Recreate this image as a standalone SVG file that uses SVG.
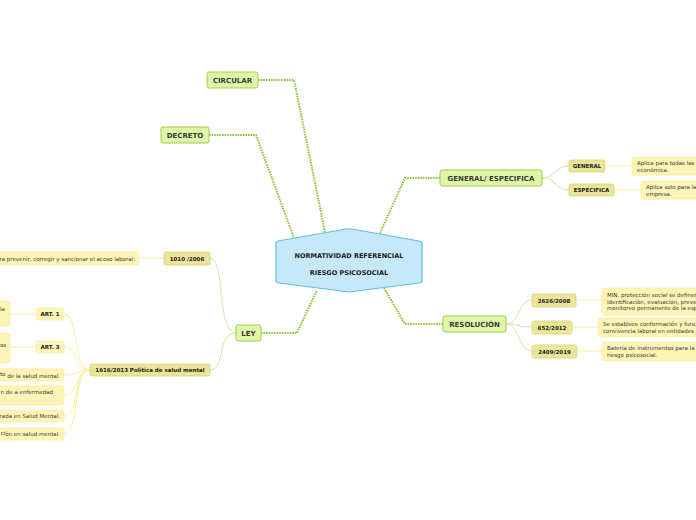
<svg xmlns="http://www.w3.org/2000/svg" width="696" height="520" viewBox="0 0 696 520">
<style>
text{font-family:"DejaVu Sans","Verdana",sans-serif;fill:#333}
.main{fill:#c5e9fb;stroke:#5dbde9;stroke-width:1.2}
.mt{font-size:6.5px;font-weight:bold;fill:#222;text-anchor:middle}
.l1{fill:#def6a8;stroke:#9fcd4b;stroke-width:1}
.t1{font-size:7px;font-weight:bold;fill:#3a3a3a;text-anchor:middle}
.l2{fill:#ebe597;stroke:#d8d07c;stroke-width:0.8}
.t2{font-size:5.5px;font-weight:bold;fill:#222;text-anchor:middle}
.lf{fill:#fdf4b5;stroke:#fbeca0;stroke-width:0.8}
.tl{font-size:5.5px;fill:#3a3a3a}
.dot{fill:none;stroke:#8fc63c;stroke-width:2;stroke-dasharray:1.6 1}
.c2{fill:none;stroke:#ddd99a;stroke-width:0.9}
.c3{fill:none;stroke:#fbee9e;stroke-width:1}
</style>
<g id="connectors">
<path class="dot" d="M258,80 H294 L325,232"/>
<path class="dot" d="M209,135 H256 L294,238"/>
<path class="dot" d="M440,178 H405 L380,233"/>
<path class="dot" d="M443,324 H405 L384,288"/>
<path class="dot" d="M261,333 H297 L317,290"/>
<path class="c2" d="M542,178 C556,178 555,166 569,166"/>
<path class="c2" d="M542,178 C556,178 555,190 569,190"/>
<path class="c3" d="M605,166 H632"/>
<path class="c3" d="M614,190 H641"/>
<path class="c2" d="M506,324 C520,324 518,300 532,300"/>
<path class="c2" d="M506,324 C520,324 518,327 532,327"/>
<path class="c2" d="M506,324 C520,324 518,351 532,351"/>
<path class="c3" d="M576,300 H602"/>
<path class="c3" d="M572,327 H598"/>
<path class="c3" d="M577,351 H602"/>
<path class="c2" d="M236,333 C216,333 226,258 210,258"/>
<path class="c2" d="M236,333 C216,333 226,370 210,370"/>
<path class="c3" d="M164,258 H139"/>
<path class="c3" d="M90,370 C72,370 80,314 64,314"/>
<path class="c3" d="M90,370 C72,370 80,347 64,347"/>
<path class="c3" d="M90,370 C76,370 78,375 64,375"/>
<path class="c3" d="M90,370 C74,370 80,395 64,395"/>
<path class="c3" d="M90,370 C72,370 80,416 64,416"/>
<path class="c3" d="M90,370 C72,370 80,434 64,434"/>
<path class="c3" d="M36,314 H10"/>
<path class="c3" d="M36,347 H10"/>
</g>
<g id="center">
<path class="main" d="M278,241 Q276,241 276,244 V280 Q276,283 279,283 L349,292 L419,283 Q422,283 422,280 V244 Q422,241 419,241 L352,229 Q349,228.5 346,229 Z"/>
<text class="mt" x="349" y="258">NORMATIVIDAD REFERENCIAL</text>
<text class="mt" x="349" y="275">RIESGO PSICOSOCIAL</text>
</g>
<g id="circular"><rect class="l1" x="207" y="72" width="51" height="16" rx="2"/><text class="t1" x="232.5" y="82.5">CIRCULAR</text></g>
<g id="decreto"><rect class="l1" x="161" y="127" width="48" height="16" rx="2"/><text class="t1" x="185" y="137.5">DECRETO</text></g>
<g id="genesp"><rect class="l1" x="440" y="170" width="102" height="16" rx="2"/><text class="t1" x="491" y="180.5">GENERAL/ ESPECIFICA</text></g>
<g id="resolucion"><rect class="l1" x="443" y="316" width="63" height="16" rx="2"/><text class="t1" x="474.5" y="326.5">RESOLUCIÓN</text></g>
<g id="ley"><rect class="l1" x="236" y="325" width="25" height="16" rx="2"/><text class="t1" x="248.5" y="335.5">LEY</text></g>
<g id="general"><rect class="l2" x="569" y="160" width="36" height="12" rx="2"/><text class="t2" x="587" y="168">GENERAL</text></g>
<g id="especifica"><rect class="l2" x="569" y="184" width="45" height="12" rx="2"/><text class="t2" x="591.5" y="192">ESPECIFICA</text></g>
<g id="leaf-general"><rect class="lf" x="632" y="157" width="70" height="18" rx="3"/><text class="tl" x="637" y="165">Aplica para todas las</text><text class="tl" x="637" y="171.5">económica.</text></g>
<g id="leaf-especifica"><rect class="lf" x="641" y="181" width="62" height="18" rx="3"/><text class="tl" x="646" y="189">Aplica solo para la</text><text class="tl" x="646" y="195.5">empresa.</text></g>
<g id="r2626"><rect class="l2" x="532" y="294" width="44" height="13" rx="2"/><text class="t2" x="554" y="302.5">2626/2008</text></g>
<g id="r652"><rect class="l2" x="532" y="321" width="40" height="13" rx="2"/><text class="t2" x="552" y="329.5">652/2012</text></g>
<g id="r2409"><rect class="l2" x="532" y="345" width="45" height="13" rx="2"/><text class="t2" x="554.5" y="353.5">2409/2019</text></g>
<g id="leaf-2626"><rect class="lf" x="602" y="288" width="100" height="27" rx="3"/><text class="tl" x="607" y="297">MIN. protección social se definen</text><text class="tl" x="607" y="303.5">identificación, evaluación, preven</text><text class="tl" x="607" y="310">monitoreo permanente de la esp</text></g>
<g id="leaf-652"><rect class="lf" x="598" y="318" width="104" height="19" rx="3"/><text class="tl" x="603" y="326">Se establece conformación y func</text><text class="tl" x="603" y="332.5">convivencia laboral en entidades p</text></g>
<g id="leaf-2409"><rect class="lf" x="602" y="342" width="100" height="19" rx="3"/><text class="tl" x="607" y="350">Batería de instrumentos para la</text><text class="tl" x="607" y="356.5">riesgo psicosocial.</text></g>
<g id="l1010"><rect class="l2" x="164" y="252" width="46" height="13" rx="2"/><text class="t2" x="187" y="260.5">1010 /2006</text></g>
<g id="leaf-1010"><rect class="lf" x="-10" y="252" width="149" height="13" rx="3"/><text class="tl" x="135" y="260.5" text-anchor="end">ra prevenir, corregir y sancionar el acoso laboral:</text></g>
<g id="l1616"><rect class="l2" x="90" y="364" width="120" height="12" rx="2"/><text class="t2" x="150" y="372">1616/2013 Política de salud mental</text></g>
<g id="art1"><rect class="lf" x="36" y="308" width="28" height="12" rx="2"/><text class="t2" x="50" y="316">ART. 1</text></g>
<g id="art3"><rect class="lf" x="36" y="341" width="28" height="12" rx="2"/><text class="t2" x="50" y="349">ART. 3</text></g>
<g id="leaf-art1"><rect class="lf" x="-10" y="301" width="20" height="25" rx="3"/><text class="tl" x="0" y="311">la</text></g>
<g id="leaf-art3"><rect class="lf" x="-10" y="333" width="20" height="30" rx="3"/><text class="tl" x="0" y="347">os</text></g>
<g id="leaf-a"><rect class="lf" x="-10" y="369" width="74" height="12" rx="3"/><text class="tl" x="60" y="377.5" text-anchor="end"><tspan dy="-1.5">to</tspan><tspan dy="1.5"> de la salud mental.</tspan></text></g>
<g id="leaf-b"><rect class="lf" x="-10" y="386" width="74" height="19" rx="3"/><text class="tl" x="53" y="394" text-anchor="end">n de a enfermedad</text></g>
<g id="leaf-c"><rect class="lf" x="-10" y="410" width="74" height="12" rx="3"/><text class="tl" x="60" y="418" text-anchor="end">rada en Salud Mental.</text></g>
<g id="leaf-d"><rect class="lf" x="-10" y="428" width="74" height="12" rx="3"/><text class="tl" x="60" y="436" text-anchor="end"><tspan dy="-1">ci</tspan><tspan dy="1">ón en salud mental.</tspan></text></g>
</svg>
